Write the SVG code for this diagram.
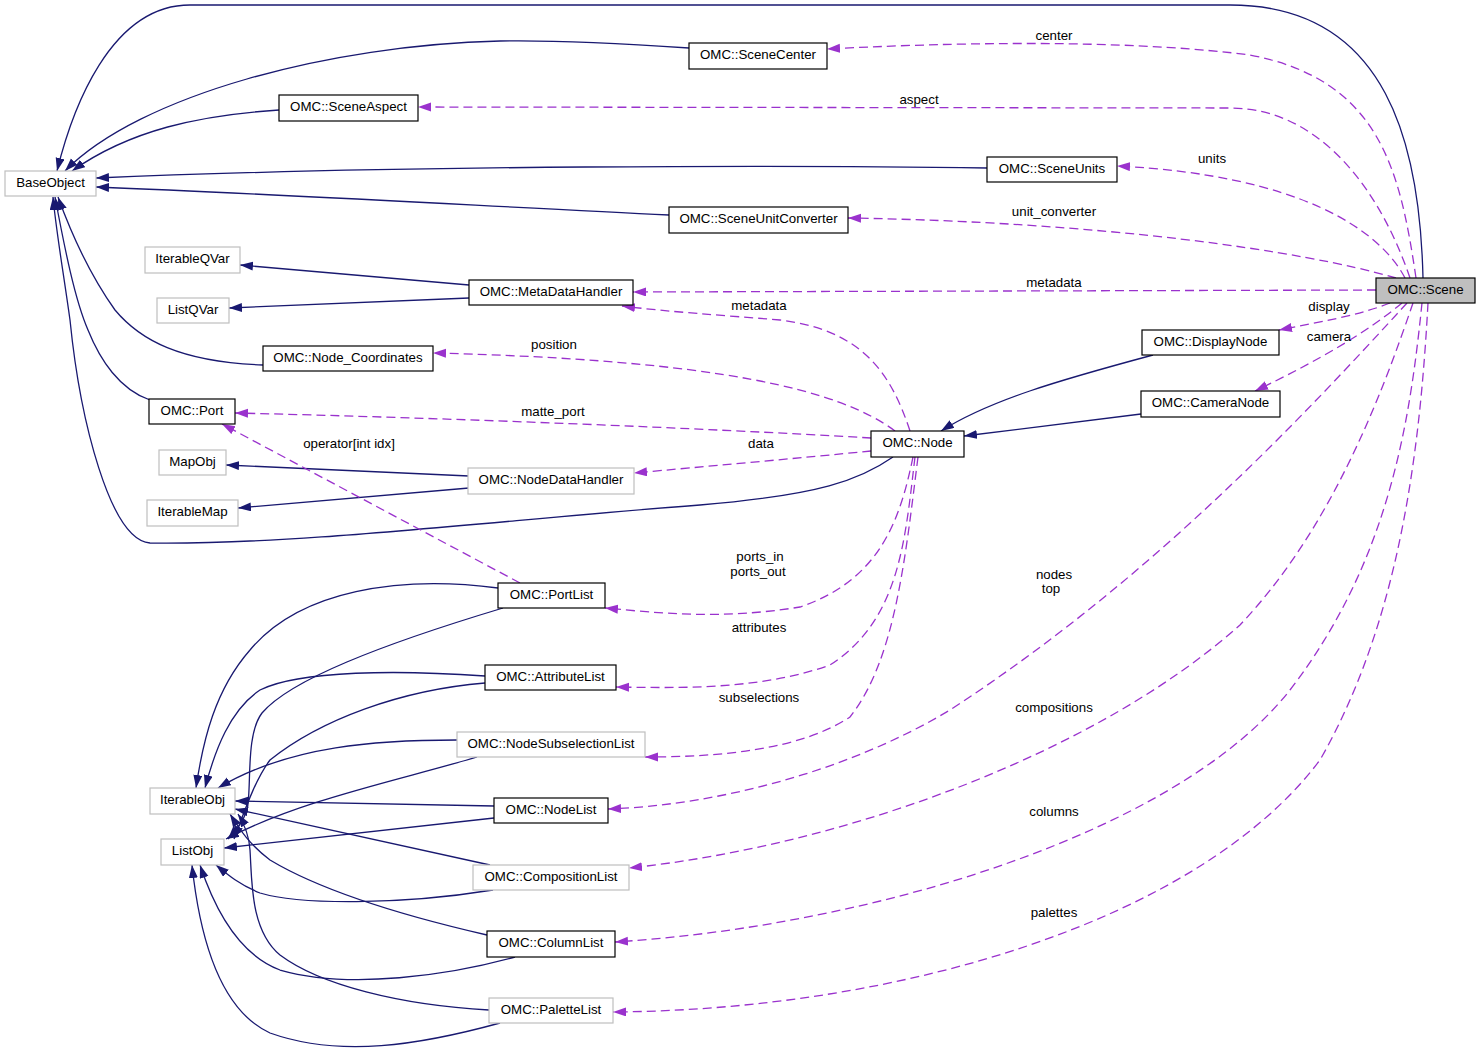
<svg xmlns="http://www.w3.org/2000/svg" width="1480" height="1059" viewBox="0 0 1480 1059">
<style>
text{font-family:"Liberation Sans",Arial,Helvetica,sans-serif;font-size:13.3px;fill:#000;text-anchor:middle}
.n rect{fill:#fff;stroke:#000;stroke-width:1.2}
.u rect{fill:#fff;stroke:#bfbfbf;stroke-width:1.2}
.s{fill:none;stroke:#191970;stroke-width:1.3;marker-end:url(#ha)}
.d{fill:none;stroke:#9a32cd;stroke-width:1.3;stroke-dasharray:9,5;marker-end:url(#hb)}
</style>
<defs>
<marker id="ha" markerUnits="userSpaceOnUse" markerWidth="14" markerHeight="10" refX="13" refY="4.5" orient="auto"><path d="M0,0 L13,4.5 L0,9 z" fill="#191970"/></marker>
<marker id="hb" markerUnits="userSpaceOnUse" markerWidth="14" markerHeight="10" refX="13" refY="4.5" orient="auto"><path d="M0,0 L13,4.5 L0,9 z" fill="#9a32cd"/></marker>
</defs>
<rect width="1480" height="1059" fill="#fff"/>
<g id="edges">
<path class="s" d="M1423,278 C1420,150 1390,5 1230,5 L190,5 C110,5 72,110 57,171"/>
<path class="s" d="M689,48 C600,42 550,40 500,41 C330,45 140,95 65,171"/>
<path class="s" d="M279,110 C200,115 130,130 72,171"/>
<path class="s" d="M987,168 C800,165 400,165 96,178"/>
<path class="s" d="M669,215 C500,207 300,195 96,187"/>
<path class="s" d="M469,285 L240,265"/>
<path class="s" d="M469,298 L229,308"/>
<path class="s" d="M263,365 C180,362 140,340 115,310 C90,275 70,230 58,197"/>
<path class="s" d="M150,400 C120,390 100,360 88,330 C75,300 65,250 55,197"/>
<path class="s" d="M893,457 C860,480 820,495 700,505 C500,520 300,545 150,543 C110,540 80,420 70,320 C63,270 56,230 53,197"/>
<path class="s" d="M469,476 L226,465"/>
<path class="s" d="M469,488 L238,508"/>
<path class="s" d="M1153,355 C1060,380 990,400 941,431"/>
<path class="s" d="M1141,414 L964,436"/>
<path class="s" d="M498,588 C400,575 300,590 250,650 C215,690 203,740 196,788"/>
<path class="s" d="M503,608 C380,645 290,680 262,713 C245,735 252,790 247,810 C243,822 236,830 228,839"/>
<path class="s" d="M485,676 C400,670 300,670 260,690 C230,710 215,750 205,788"/>
<path class="s" d="M485,683 C400,690 320,720 270,760 C255,780 245,810 234,839"/>
<path class="s" d="M457,740 C380,740 290,745 218,788"/>
<path class="s" d="M477,757 C400,780 300,800 226,839"/>
<path class="s" d="M494,806 L235,801"/>
<path class="s" d="M494,818 L224,848"/>
<path class="s" d="M490,865 L235,809"/>
<path class="s" d="M493,890 C400,905 300,905 260,893 C240,885 228,875 216,865"/>
<path class="s" d="M487,935 C400,915 320,890 270,860 C250,845 240,830 230,814"/>
<path class="s" d="M515,957 C450,975 350,990 280,970 C240,955 215,910 200,865"/>
<path class="s" d="M489,1010 C400,1005 320,985 280,955 C250,930 252,880 250,850 C249,835 245,825 238,814"/>
<path class="s" d="M500,1023 C420,1045 340,1058 270,1033 C220,1010 200,940 192,865"/>
<path class="d" d="M1416,278 C1400,170 1380,80 1250,55 C1150,42 1000,40 827,49"/>
<path class="d" d="M1410,278 C1380,190 1320,108 1230,108 L418,107"/>
<path class="d" d="M1405,278 C1380,230 1300,175 1117,166"/>
<path class="d" d="M1396,278 C1300,250 1100,222 848,218"/>
<path class="d" d="M1376,290 L633,292"/>
<path class="d" d="M1390,303 C1360,315 1320,322 1279,330"/>
<path class="d" d="M1402,303 C1370,330 1320,360 1255,391"/>
<path class="d" d="M1407,303 C1300,420 1150,580 950,710 C850,770 720,805 608,809"/>
<path class="d" d="M1413,303 C1380,400 1330,530 1240,625 C1100,750 850,845 629,868"/>
<path class="d" d="M1422,303 C1410,420 1390,560 1290,690 C1180,830 880,925 615,942"/>
<path class="d" d="M1428,303 C1420,450 1400,620 1320,760 C1200,920 900,1010 613,1012"/>
<path class="d" d="M910,431 C890,370 860,330 780,320 C720,315 670,312 622,306"/>
<path class="d" d="M895,431 C840,390 720,360 433,353"/>
<path class="d" d="M871,438 C700,428 450,418 235,413"/>
<path class="d" d="M871,451 C800,458 700,467 634,473"/>
<path class="d" d="M913,457 C900,520 880,580 800,607 C720,620 660,613 605,608"/>
<path class="d" d="M915,457 C905,540 900,620 830,665 C760,690 680,688 616,687"/>
<path class="d" d="M918,457 C905,560 895,660 850,717 C800,750 720,757 645,757"/>
<path class="d" d="M520,583 L222,424"/>
<g id="edge-labels">
<text x="1054" y="40">center</text>
<text x="919" y="104">aspect</text>
<text x="1212" y="163">units</text>
<text x="1054" y="216">unit_converter</text>
<text x="1054" y="287">metadata</text>
<text x="1329" y="311">display</text>
<text x="1329" y="341">camera</text>
<text x="759" y="310">metadata</text>
<text x="554" y="349">position</text>
<text x="553" y="416">matte_port</text>
<text x="349" y="448">operator[int idx]</text>
<text x="761" y="448">data</text>
<text x="760" y="561">ports_in</text>
<text x="758" y="576">ports_out</text>
<text x="1054" y="579">nodes</text>
<text x="1051" y="593">top</text>
<text x="759" y="632">attributes</text>
<text x="759" y="702">subselections</text>
<text x="1054" y="712">compositions</text>
<text x="1054" y="816">columns</text>
<text x="1054" y="917">palettes</text>
</g>
</g>
<g id="BaseObject" class="u"><rect x="5" y="171" width="91" height="25"/><text x="50.5" y="187">BaseObject</text></g>
<g id="SceneCenter" class="n"><rect x="689" y="43" width="138" height="26"/><text x="758" y="59">OMC::SceneCenter</text></g>
<g id="SceneAspect" class="n"><rect x="279" y="95" width="139" height="26"/><text x="348.5" y="111">OMC::SceneAspect</text></g>
<g id="SceneUnits" class="n"><rect x="987" y="157" width="130" height="25"/><text x="1052" y="173">OMC::SceneUnits</text></g>
<g id="SceneUnitConverter" class="n"><rect x="669" y="207" width="179" height="26"/><text x="758.5" y="223">OMC::SceneUnitConverter</text></g>
<g id="IterableQVar" class="u"><rect x="145" y="247" width="95" height="26"/><text x="192.5" y="263">IterableQVar</text></g>
<g id="ListQVar" class="u"><rect x="157" y="298" width="72" height="25"/><text x="193" y="314">ListQVar</text></g>
<g id="MetaDataHandler" class="n"><rect x="469" y="280" width="164" height="25"/><text x="551" y="296">OMC::MetaDataHandler</text></g>
<g id="Scene"><rect x="1376" y="278" width="99" height="25" fill="#bfbfbf" stroke="#000" stroke-width="1.2"/><text x="1425.5" y="294">OMC::Scene</text></g>
<g id="DisplayNode" class="n"><rect x="1142" y="330" width="137" height="25"/><text x="1210.5" y="346">OMC::DisplayNode</text></g>
<g id="Node_Coordinates" class="n"><rect x="263" y="346" width="170" height="25"/><text x="348" y="362">OMC::Node_Coordinates</text></g>
<g id="CameraNode" class="n"><rect x="1141" y="391" width="139" height="26"/><text x="1210.5" y="407">OMC::CameraNode</text></g>
<g id="Port" class="n"><rect x="149" y="399" width="86" height="25"/><text x="192" y="415">OMC::Port</text></g>
<g id="Node" class="n"><rect x="871" y="431" width="93" height="26"/><text x="917.5" y="447">OMC::Node</text></g>
<g id="MapObj" class="u"><rect x="159" y="450" width="67" height="25"/><text x="192.5" y="466">MapObj</text></g>
<g id="NodeDataHandler" class="u"><rect x="468" y="468" width="166" height="26"/><text x="551" y="484">OMC::NodeDataHandler</text></g>
<g id="IterableMap" class="u"><rect x="147" y="500" width="91" height="26"/><text x="192.5" y="516">IterableMap</text></g>
<g id="PortList" class="n"><rect x="498" y="583" width="107" height="25"/><text x="551.5" y="599">OMC::PortList</text></g>
<g id="AttributeList" class="n"><rect x="485" y="665" width="131" height="25"/><text x="550.5" y="681">OMC::AttributeList</text></g>
<g id="NodeSubselectionList" class="u"><rect x="457" y="732" width="188" height="25"/><text x="551" y="748">OMC::NodeSubselectionList</text></g>
<g id="IterableObj" class="u"><rect x="150" y="788" width="85" height="26"/><text x="192.5" y="804">IterableObj</text></g>
<g id="NodeList" class="n"><rect x="494" y="798" width="114" height="25"/><text x="551" y="814">OMC::NodeList</text></g>
<g id="ListObj" class="u"><rect x="161" y="839" width="63" height="26"/><text x="192.5" y="855">ListObj</text></g>
<g id="CompositionList" class="u"><rect x="473" y="865" width="156" height="25"/><text x="551" y="881">OMC::CompositionList</text></g>
<g id="ColumnList" class="n"><rect x="487" y="931" width="128" height="26"/><text x="551" y="947">OMC::ColumnList</text></g>
<g id="PaletteList" class="u"><rect x="489" y="998" width="124" height="25"/><text x="551" y="1014">OMC::PaletteList</text></g>
</svg>
